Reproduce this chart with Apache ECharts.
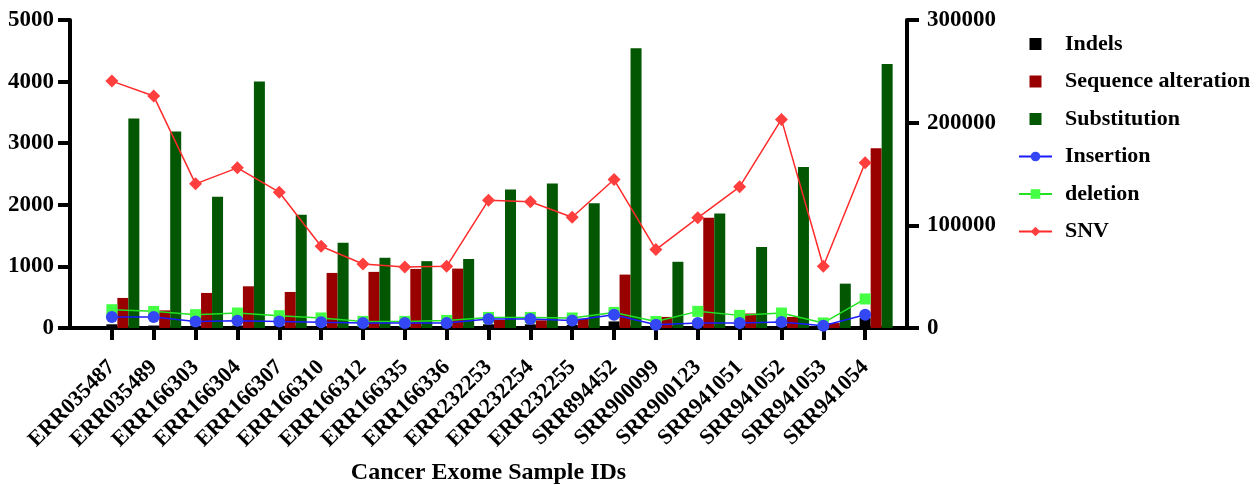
<!DOCTYPE html>
<html>
<head>
<meta charset="utf-8">
<script src="https://cdn.jsdelivr.net/npm/echarts@6/dist/echarts.min.js"></script>
<style>
html,body{margin:0;padding:0;background:#fff;}
#chart{width:1258px;height:485px;}
</style>
</head>
<body>
<div id="chart"></div>
<script>
const sampleIds = ['ERR035487','ERR035489','ERR166303','ERR166304','ERR166307','ERR166310','ERR166312','ERR166335','ERR166336','ERR232253','ERR232254','ERR232255','SRR894452','SRR900099','SRR900123','SRR941051','SRR941052','SRR941053','SRR941054'];
const indels = [60, 40, 40, 40, 40, 30, 30, 30, 30, 60, 60, 50, 107, 30, 40, 40, 40, 20, 163];
const seqAlteration = [488, 286, 569, 677, 585, 894, 911, 959, 964, 130, 125, 150, 867, 180, 1790, 235, 180, 80, 2920];
const substitution = [3400, 3190, 2130, 4000, 1840, 1385, 1140, 1085, 1120, 2250, 2345, 2025, 4540, 1075, 1860, 1315, 2615, 720, 4285];
const insertion = [10700, 10700, 6400, 7100, 6400, 5500, 4900, 4900, 4900, 8800, 8800, 7400, 13000, 3200, 4900, 4900, 5900, 2200, 13000];
const deletion = [17850, 16200, 13000, 14600, 12000, 9800, 6400, 6400, 7400, 10300, 10300, 9800, 15200, 6400, 16200, 12300, 14600, 4900, 28300];
const snv = [240500, 225900, 140400, 156000, 132300, 79600, 62400, 59500, 60100, 124500, 122900, 107900, 144600, 76400, 107300, 137500, 203200, 60100, 160900];
const leftTicks = {min: 0, max: 5000, interval: 1000};
const rightTicks = {min: 0, max: 300000, interval: 100000};

const pad = arr => ['-'].concat(arr, ['-']);
const cats = [''].concat(sampleIds, ['']);
const n = cats.length;
const FONT = 'Liberation Serif';
const innerOnly = (i) => i > 0 && i < n - 1;
const plain = v => String(v);

const chart = echarts.init(document.getElementById('chart'), null, {renderer: 'canvas'});
const barIcon = 'path://M0 0H10V10H0Z';
const option = {
  animation: false,
  backgroundColor: '#ffffff',
  grid: {left: 70, right: 351, top: 20, bottom: 157, containLabel: false, outerBoundsMode: 'none'},
  legend: {
    orient: 'vertical', left: 1013, top: 28,
    itemWidth: 33, itemHeight: 12, itemGap: 15.5,
    symbolKeepAspect: true,
    textStyle: {fontFamily: FONT, fontWeight: 'bold', fontSize: 22, color: '#000', padding: [0, 0, 0, 8]},
    data: [
      {name: 'Indels', icon: barIcon},
      {name: 'Sequence alteration', icon: barIcon},
      {name: 'Substitution', icon: barIcon},
      {name: 'Insertion'},
      {name: 'deletion'},
      {name: 'SNV'}
    ]
  },
  xAxis: {
    type: 'category', data: cats, boundaryGap: false,
    name: 'Cancer Exome Sample IDs', nameLocation: 'middle', nameGap: 133,
    nameTextStyle: {fontFamily: FONT, fontWeight: 'bold', fontSize: 24, color: '#000'},
    axisLine: {lineStyle: {color: '#000', width: 4}},
    axisTick: {show: true, length: 12, lineStyle: {color: '#000', width: 4}, interval: innerOnly, alignWithLabel: true},
    axisLabel: {rotate: 45, interval: innerOnly, margin: 36, fontFamily: FONT, fontWeight: 'bold', fontSize: 22, color: '#000'},
    splitLine: {show: false}
  },
  yAxis: [
    {
      type: 'value', position: 'left', min: leftTicks.min, max: leftTicks.max, interval: leftTicks.interval,
      axisLine: {show: true, lineStyle: {color: '#000', width: 4}},
      axisTick: {show: true, length: 12, lineStyle: {color: '#000', width: 4}},
      axisLabel: {margin: 16, formatter: plain, fontFamily: FONT, fontWeight: 'bold', fontSize: 23, color: '#000'},
      splitLine: {show: false}
    },
    {
      type: 'value', position: 'right', min: rightTicks.min, max: rightTicks.max, interval: rightTicks.interval,
      axisLine: {show: true, lineStyle: {color: '#000', width: 4}},
      axisTick: {show: true, length: 12, lineStyle: {color: '#000', width: 4}},
      axisLabel: {margin: 20, formatter: plain, fontFamily: FONT, fontWeight: 'bold', fontSize: 23, color: '#000'},
      splitLine: {show: false}
    }
  ],
  series: [
    {name: '_s1', type: 'bar', data: [], barWidth: 11},
    {name: '_s2', type: 'bar', data: [], barWidth: 11},
    {name: 'Indels', type: 'bar', data: pad(indels), barWidth: 11, itemStyle: {color: '#000000'}},
    {name: 'Sequence alteration', type: 'bar', data: pad(seqAlteration), barWidth: 11, itemStyle: {color: '#990000'}},
    {name: 'Substitution', type: 'bar', data: pad(substitution), barWidth: 11, barGap: '0%', itemStyle: {color: '#035703'}},
    {name: 'Insertion', type: 'line', yAxisIndex: 1, data: pad(insertion), symbol: 'circle', symbolSize: 12, z: 4,
      lineStyle: {color: '#1a1aff', width: 1.5}, itemStyle: {color: '#3347f5'}},
    {name: 'deletion', type: 'line', yAxisIndex: 1, data: pad(deletion), symbol: 'rect', symbolSize: 11, z: 3,
      lineStyle: {color: '#22e022', width: 1.5}, itemStyle: {color: '#44ff44'}},
    {name: 'SNV', type: 'line', yAxisIndex: 1, data: pad(snv), symbol: 'diamond', symbolSize: 13, z: 5,
      lineStyle: {color: '#ff2a2a', width: 1.5}, itemStyle: {color: '#ff3e3e'}}
  ]
};
chart.setOption(option);
</script>
</body>
</html>
